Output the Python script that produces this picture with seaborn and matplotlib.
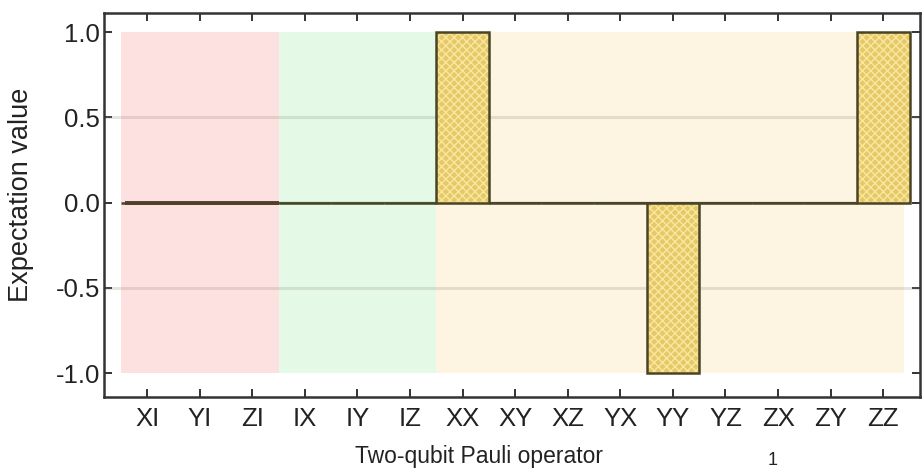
import matplotlib
matplotlib.use("Agg")
import matplotlib.pyplot as plt
import seaborn as sns
import pandas as pd

# Two-qubit Pauli operators and their measured expectation values
operators = ["XI", "YI", "ZI", "IX", "IY", "IZ", "XX", "XY", "XZ",
             "YX", "YY", "YZ", "ZX", "ZY", "ZZ"]
expectation = [0.0, 0.0, 0.0, 0.0, 0.0, 0.0, 1.0, 0.0, 0.0,
               0.0, -1.0, 0.0, 0.0, 0.0, 1.0]

# Operator groups: single-qubit on A, single-qubit on B, correlations
group_spans = [(-0.5, 2.5), (2.5, 5.5), (5.5, 14.4)]
group_colors = ["#fde0e0", "#e4fae6", "#fdf4e2"]
zero_colors = ["#5a3636", "#5e7a60", "#4e4e48"]
zero_widths = [2.8, 1.6, 1.6]

y_ticks = [-1.0, -0.5, 0.0, 0.5, 1.0]
y_tick_labels = ["-1.0", "-0.5", "0.0", "0.5", "1.0"]

df = pd.DataFrame({"operator": operators, "value": expectation})

sns.set_style("ticks")
plt.rcParams["font.family"] = ["Liberation Sans", "DejaVu Sans"]
plt.rcParams["hatch.linewidth"] = 1.0

fig = plt.figure(figsize=(9.24, 4.69), dpi=100)
ax = fig.add_axes([0.1126, 0.1535, 0.8831, 0.8195])
ax.set_facecolor("white")

# shaded group bands spanning the value range
for (x0, x1), c in zip(group_spans, group_colors):
    ax.fill_between([x0, x1], -1, 1, color=c, lw=0, zorder=0)

# faint reference lines at +/-0.5
for yv in (-0.5, 0.5):
    ax.axhline(yv, color="#8c8670", alpha=0.22, lw=2.2, zorder=1)

# zero baseline per group
for (x0, x1), c, w in zip(group_spans, zero_colors, zero_widths):
    ax.hlines(0, x0 + (0.08 if x0 < 0 else 0), min(x1, 13.5) if x1 > 14 else x1,
              color=c, lw=w, zorder=2)

# hatched fill of the bars
sns.barplot(data=df, x="operator", y="value", ax=ax, width=1.0,
            color="#e6c866", edgecolor="#f7e7a0", hatch="xxxx",
            linewidth=0, saturation=1, zorder=3)
# dark outline of the bars
sns.barplot(data=df, x="operator", y="value", ax=ax, width=1.0,
            fill=False, edgecolor="#4a4426", linewidth=1.8,
            saturation=1, zorder=4)

ax.set_xlim(-0.82, 14.70)
ax.set_ylim(-1.14, 1.115)
ax.set_yticks(y_ticks)
ax.set_yticklabels(y_tick_labels)
ax.set_xticks(range(len(operators)))
ax.set_xticklabels(operators)

ax.set_xlabel("Two-qubit Pauli operator", fontsize=16.5, color="#222222")
ax.set_ylabel("Expectation value", fontsize=19.5, color="#222222")
ax.xaxis.set_label_coords(0.46, -0.125, transform=ax.transAxes)
ax.xaxis.label.set_va("top")
ax.yaxis.set_label_coords(-0.086, 0.525, transform=ax.transAxes)

ax.tick_params(axis="both", which="major", direction="in", length=6, width=1.4,
               color="#333333", labelsize=18.5, labelcolor="#222222",
               top=True, right=True)
ax.tick_params(axis="y", pad=3)
ax.tick_params(axis="x", pad=7)
for s in ax.spines.values():
    s.set_color("#333333")
    s.set_linewidth(1.8)
    s.set_visible(True)

fig.text(0.836, 0.0, "1", fontsize=13, color="#222222", ha="center", va="bottom")

fig.savefig("out.png", dpi=100)
